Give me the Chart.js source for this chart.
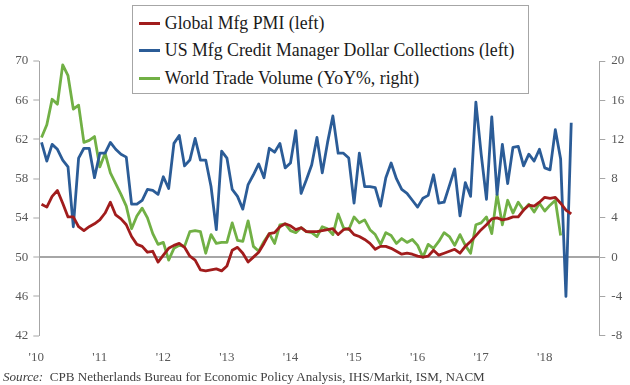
<!DOCTYPE html>
<html>
<head>
<meta charset="utf-8">
<script src="https://cdn.jsdelivr.net/npm/chart.js@4.4.1/dist/chart.umd.min.js"></script>
<style>
  html, body { margin: 0; padding: 0; background: #fff; }
  #wrap { position: relative; width: 630px; height: 385px; }
  #legend {
    position: absolute; left: 131.5px; top: 5px; width: 397.5px; height: 89px;
    box-sizing: border-box; border: 1.5px solid #a6a6a6; background: #fff;
    padding: 3.7px 0 0 6.3px;
    font-family: "Liberation Serif", serif; font-size: 17.8px; color: #1a1a1a;
  }
  .row { display: flex; align-items: center; height: 27.5px; line-height: 27.5px; white-space: nowrap; }
  .swatch { width: 21px; height: 3px; margin-right: 5px; }
  #source {
    position: absolute; left: 3px; top: 369px; line-height: 15px;
    font-family: "Liberation Serif", serif; font-size: 13.1px; color: #404040; white-space: nowrap;
  }
</style>
</head>
<body>
<div id="wrap">
  <canvas id="chart" width="630" height="385"></canvas>
  <div id="legend"></div>
  <div id="source"><i>Source:</i>&nbsp; CPB Netherlands Bureau for Economic Policy Analysis, IHS/Markit, ISM, NACM</div>
</div>
<script>
// monthly, starting Jan 2010
const yearLabels = ["'10", "'11", "'12", "'13", "'14", "'15", "'16", "'17", "'18"];

// Global Mfg PMI (left axis)
const globalPmi = [
  55.4, 55.1, 56.2, 56.8, 55.5, 54.1, 54.1, 53.1, 52.7, 53.1,
  53.4, 53.8, 54.5, 55.6, 54.3, 53.9, 53.3, 52.1, 51.3, 51.1,
  50.5, 50.6, 49.5, 50.2, 50.9, 51.2, 51.4, 51.0, 50.1, 49.7,
  48.7, 48.6, 48.7, 48.8, 48.6, 49.1, 50.7, 51.0, 50.4, 49.5,
  50.0, 50.5, 51.4, 52.4, 52.5, 53.1, 53.4, 53.2, 52.8, 53.0,
  52.6, 52.6, 52.6, 52.7, 52.8, 52.9, 52.3, 52.8, 52.9, 52.3,
  52.1, 51.8, 51.4, 50.8, 51.1, 51.1, 50.9, 50.6, 50.3, 50.4,
  50.3, 50.1, 50.0, 50.1, 50.7, 50.2, 50.4, 50.6, 50.8, 50.4,
  51.1, 51.6, 52.2, 52.8, 53.3, 53.9, 54.0, 53.8, 53.9, 54.1,
  54.1, 54.8, 55.3, 55.2, 55.6, 56.1, 56.0, 56.1, 55.5, 54.8, 54.4
];

// US Mfg Credit Manager Dollar Collections (left axis)
const dollarCollections = [
  61.7, 59.8, 61.5, 61.0, 59.9, 59.2, 53.1, 60.1, 61.1, 61.1,
  58.1, 60.6, 60.6, 61.7, 61.0, 60.5, 60.2, 55.4, 55.4, 55.8,
  56.9, 56.8, 56.4, 58.2, 57.0, 61.6, 62.4, 59.3, 59.9, 62.1,
  59.9, 59.9, 57.2, 52.8, 60.8, 60.1, 56.9, 56.2, 54.9, 57.4,
  58.4, 59.5, 58.1, 61.1, 60.7, 61.6, 59.1, 59.6, 62.9, 56.5,
  57.9, 59.4, 62.2, 58.6, 61.7, 64.4, 60.6, 60.6, 60.1, 55.5,
  60.6, 57.2, 57.2, 57.1, 55.2, 58.1, 59.6, 58.0, 56.9, 56.5,
  55.8, 55.1, 56.0, 56.3, 58.4, 55.5, 55.6, 57.3, 59.0, 54.2,
  57.6, 56.2, 65.8, 60.5, 55.9, 64.3, 56.4, 61.5, 57.5, 61.2,
  61.3, 59.3, 60.5, 59.8, 61.0, 59.1, 58.9, 63.0, 60.0, 46.0, 63.7
];

// World Trade Volume, YoY % (right axis)
const worldTrade = [
  12.2, 13.5, 16.1, 15.6, 19.6, 18.5, 15.1, 15.5, 11.7, 11.9,
  12.3, 9.2, 10.6, 8.6, 7.5, 6.4, 5.2, 2.9, 4.2, 5.0,
  4.0, 2.4, 1.3, 1.5, -0.3, 0.9, 1.2, 1.1, 2.6, 2.7,
  2.6, 0.4, 2.3, 1.4, 1.5, 1.5, 3.5, 1.7, 1.6, 3.7,
  1.1, 0.6, 1.6, 2.4, 1.4, 3.3, 3.4, 2.7, 2.5, 3.0,
  2.6, 2.5, 2.1, 3.1, 2.9, 2.3, 4.4, 3.0, 2.8, 4.1,
  3.5, 3.8, 2.8, 2.3, 1.3, 2.5, 2.2, 1.4, 1.9, 1.5,
  1.8, 1.2, 0.0, 1.3, 0.9, 1.6, 2.5, 2.1, 1.2, 2.3,
  1.2, 0.4, 3.3, 3.5, 4.1, 2.4, 6.4, 3.3, 5.8, 4.5,
  5.6, 4.8, 5.4, 4.6, 5.5, 4.7, 5.3, 5.8, 2.2
];

const leftTicks = [42, 46, 50, 54, 58, 62, 66, 70];
const rightTicks = [-8, -4, 0, 4, 8, 12, 16, 20];

const RED = "#a11c1c";
const BLUE = "#2b5c97";
const GREEN = "#71b045";
const AXIS = "#a6a6a6";
const TICK_TEXT = "#595959";
const tickFont = { family: "'Liberation Serif', serif", size: 13 };

const toPoints = (arr) => arr.map((v, i) => ({ x: i, y: v }));

const series = [
  { label: "Global Mfg PMI (left)", data: globalPmi, color: RED, axis: "y" },
  { label: "US Mfg Credit Manager Dollar Collections (left)", data: dollarCollections, color: BLUE, axis: "y" },
  { label: "World Trade Volume (YoY%, right)", data: worldTrade, color: GREEN, axis: "y1" },
];

const ctx = document.getElementById("chart");
const chart = new Chart(ctx, {
  type: "line",
  data: {
    datasets: series.map((s) => ({
      label: s.label,
      data: toPoints(s.data),
      borderColor: s.color,
      backgroundColor: s.color,
      borderWidth: 2.8,
      pointRadius: 0,
      borderJoinStyle: "round",
      tension: 0,
      yAxisID: s.axis,
    })),
  },
  options: {
    responsive: false,
    animation: false,
    layout: { padding: { top: 61, bottom: 19.4, left: 0, right: 0 } },
    plugins: { legend: { display: false }, tooltip: { enabled: false } },
    scales: {
      x: {
        type: "linear",
        min: -0.42,
        max: 105.3,
        grid: { display: false, drawTicks: false },
        border: { display: false },
        afterBuildTicks: (s) => {
          s.ticks = yearLabels.map((_, k) => ({ value: 12 * k - 1 }));
        },
        afterFit: (s) => { s.height = 30; },
        ticks: {
          autoSkip: false,
          maxRotation: 0,
          padding: 14.5,
          color: TICK_TEXT,
          font: tickFont,
          callback: (v, i) => yearLabels[i],
        },
      },
      y: {
        position: "left",
        min: leftTicks[0],
        max: leftTicks[leftTicks.length - 1],
        afterBuildTicks: (s) => { s.ticks = leftTicks.map((v) => ({ value: v })); },
        afterFit: (s) => { s.width = 39.3; },
        ticks: { padding: 5, color: TICK_TEXT, font: tickFont },
        grid: {
          color: (c) => (c.tick && c.tick.value === 50 ? AXIS : "rgba(0,0,0,0)"),
          lineWidth: (c) => (c.tick && c.tick.value === 50 ? 2 : 0),
          tickColor: AXIS,
          tickLength: 6,
          tickWidth: 1,
        },
        border: { color: AXIS, width: 1 },
      },
      y1: {
        position: "right",
        min: rightTicks[0],
        max: rightTicks[rightTicks.length - 1],
        afterBuildTicks: (s) => { s.ticks = rightTicks.map((v) => ({ value: v })); },
        afterFit: (s) => { s.width = 30.7; },
        ticks: { padding: 6, color: TICK_TEXT, font: tickFont },
        grid: { drawOnChartArea: false, tickColor: AXIS, tickLength: 6, tickWidth: 1 },
        border: { color: AXIS, width: 1 },
      },
    },
  },
});

// legend box built from the datasets
const legend = document.getElementById("legend");
series.forEach((s) => {
  const row = document.createElement("div");
  row.className = "row";
  row.innerHTML = `<span class="swatch" style="background:${s.color}"></span><span>${s.label}</span>`;
  legend.appendChild(row);
});
</script>
</body>
</html>
